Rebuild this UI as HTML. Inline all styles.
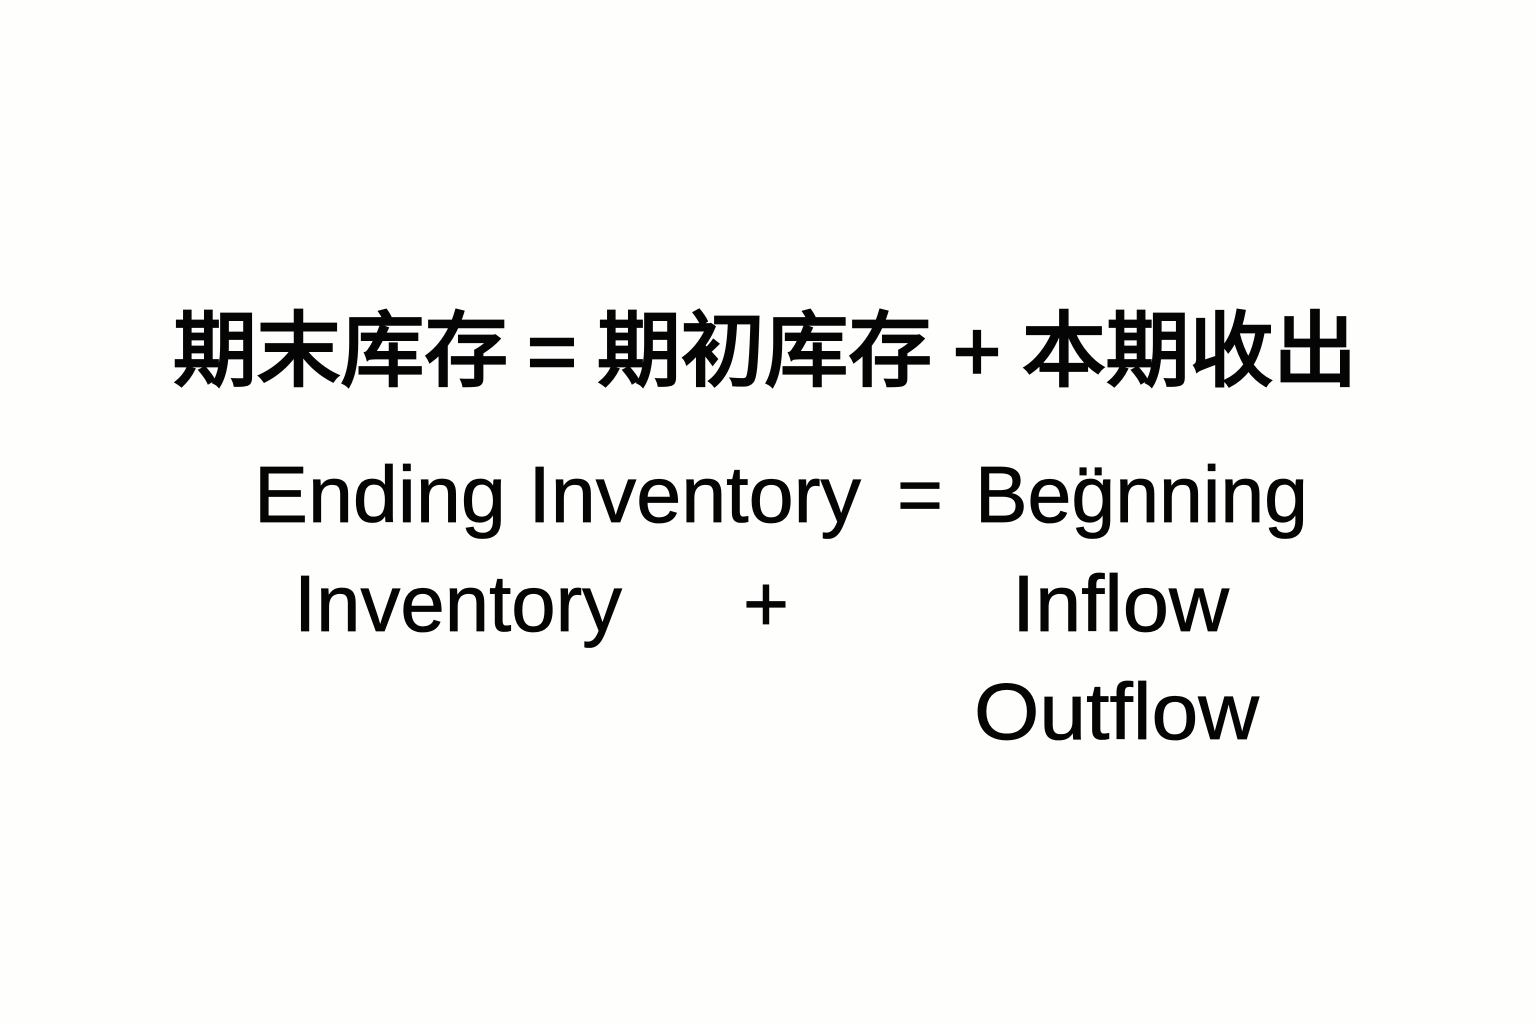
<!DOCTYPE html>
<html>
<head>
<meta charset="utf-8">
<style>
html,body{margin:0;padding:0;background:#fefefd;}
svg{display:block;}
.c{font-family:"Noto Sans CJK SC",sans-serif;font-weight:400;font-size:82px;fill:#050505;stroke:#050505;stroke-width:2.8px;}
.o{font-family:"Liberation Sans",sans-serif;font-weight:400;font-size:84px;fill:#050505;stroke:#050505;stroke-width:2.4px;}
.e{font-family:"Liberation Sans","Noto Sans CJK SC",sans-serif;font-size:80px;fill:#050505;stroke:#050505;stroke-width:0.8px;}
</style>
</head>
<body>
<svg width="1536" height="1024" viewBox="0 0 1536 1024" xmlns="http://www.w3.org/2000/svg">
<rect width="1536" height="1024" fill="#fefefd"/>
<text class="c" x="173" y="379" textLength="335" lengthAdjust="spacingAndGlyphs">期末库存</text>
<text class="o" x="527" y="380" textLength="50" lengthAdjust="spacingAndGlyphs">=</text>
<text class="c" x="597" y="379" textLength="335" lengthAdjust="spacingAndGlyphs">期初库存</text>
<text class="o" x="953" y="380" textLength="48" lengthAdjust="spacingAndGlyphs">+</text>
<text class="c" x="1022" y="379" textLength="335" lengthAdjust="spacingAndGlyphs">本期收出</text>
<text class="e" x="254" y="522" textLength="607" lengthAdjust="spacingAndGlyphs">Ending Inventory</text>
<text class="e" x="897" y="522" textLength="46" lengthAdjust="spacingAndGlyphs">=</text>
<text class="e" x="975" y="522" textLength="333" lengthAdjust="spacingAndGlyphs">Beg̈nning</text>
<text class="e" x="294" y="631" textLength="328" lengthAdjust="spacingAndGlyphs">Inventory</text>
<text class="e" x="743" y="631" textLength="46" lengthAdjust="spacingAndGlyphs">+</text>
<text class="e" x="1012" y="631" textLength="217" lengthAdjust="spacingAndGlyphs">Inflow</text>
<text class="e" x="974" y="739" textLength="285" lengthAdjust="spacingAndGlyphs">Outflow</text>
</svg>
</body>
</html>
